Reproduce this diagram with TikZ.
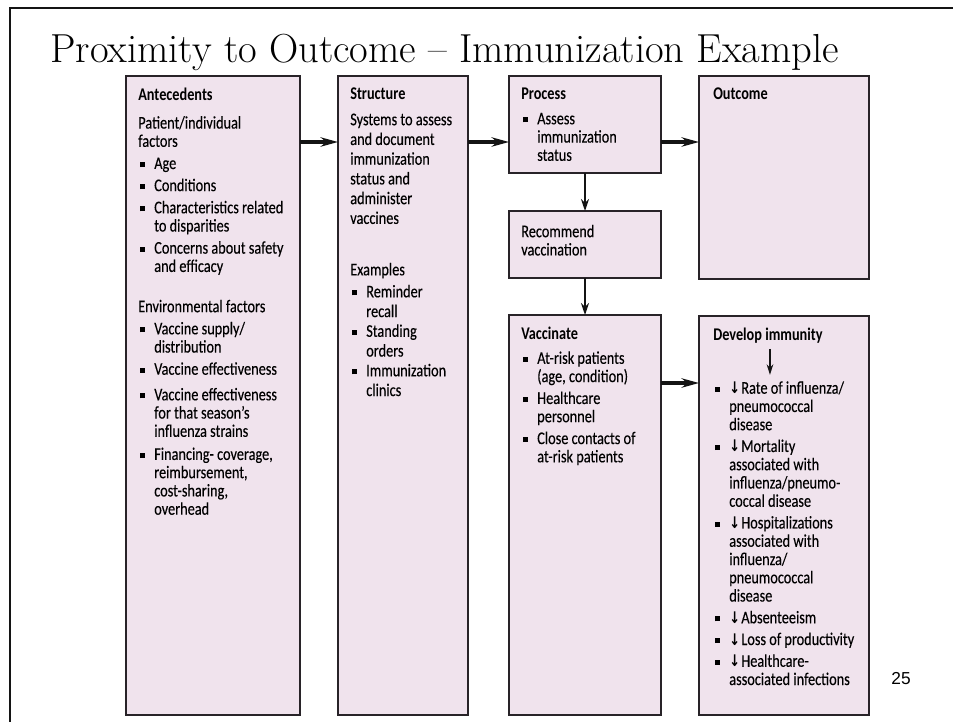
\documentclass[tikz,border=0pt]{standalone}
\usepackage{fontspec}
\setsansfont{Carlito}[FakeStretch=0.8, UprightFeatures={FakeBold=0.2}]
\newfontfamily\arrowfont{DejaVu Sans}[FakeStretch=0.8]
\newfontfamily\numfont{Liberation Sans}
\usepackage{tikz}
\usetikzlibrary{positioning,arrows.meta,calc}
\definecolor{imPink}{RGB}{240,227,237}
\definecolor{imEdge}{RGB}{40,35,40}
\definecolor{imGray}{RGB}{20,20,20}

\newcommand{\sqbul}{\makebox[12pt][l]{\hspace{1.5pt}\rule[1.4pt]{3.8pt}{3.8pt}}}
\newcommand{\indt}{\hspace*{12pt}}
\newcommand{\dnarr}{{\arrowfont\bfseries\fontsize{12pt}{12pt}\selectfont ↓}\hspace{1pt}}

\tikzset{
  panel/.style={draw=imEdge, line width=1.5pt, fill=imPink, anchor=north west, inner sep=0pt, outer sep=0pt},
  paneltext/.style={anchor=north west, align=left, inner sep=0pt, font=\sffamily\fontsize{13.4pt}{13.7pt}\selectfont},
  loosetext/.style={paneltext, font=\sffamily\fontsize{13.4pt}{14.8pt}\selectfont},
  flow/.style={line width=2.3pt, imGray, -{Stealth[length=13pt,width=7pt]}},
  drop/.style={line width=1.2pt, imGray, -{Stealth[length=9pt,width=6pt]}},
}

\begin{document}
\begin{tikzpicture}[x=0.75pt,y=-0.75pt]
  \useasboundingbox (0,0) rectangle (953,722);

  % Slide frame and title
  \draw[line width=2.2pt, imGray] (953,8) -- (10,8) -- (10,722);
  \node[anchor=base west, inner sep=0pt] (title) at (50,62) {\fontsize{30.4pt}{31pt}\selectfont Proximity to Outcome – Immunization Example};

  % Antecedents
  \node[panel, minimum width=130.5pt, minimum height=479.25pt] (ante) at (126,76) {};
  \node[paneltext] (anteTxt) at ([shift={(12,11.5)}]ante.north west) {\textbf{Antecedents}\\[7.5pt]
    Patient/individual\\ factors\\[2.9pt]
    \sqbul Age\\[2.9pt]
    \sqbul Conditions\\[2.9pt]
    \sqbul Characteristics related\\ \indt to disparities\\[2.9pt]
    \sqbul Concerns about safety\\ \indt and efficacy\\[16.5pt]
    Environmental factors\\[2.9pt]
    \sqbul Vaccine supply/\\ \indt distribution\\[2.9pt]
    \sqbul Vaccine effectiveness\\[5.5pt]
    \sqbul Vaccine effectiveness\\ \indt for that season’s\\ \indt influenza strains\\[3.6pt]
    \sqbul Financing- coverage,\\ \indt reimbursement,\\ \indt cost-sharing,\\ \indt overhead};

  % Structure
  \node[panel, minimum width=97.5pt, minimum height=479.25pt] (struct) at (338,76) {};
  \node[loosetext] (structTxt) at ([shift={(12,11.5)}]struct.north west) {\textbf{Structure}\\[4.5pt]
    Systems to assess\\ and document\\ immunization\\ status and\\ administer\\ vaccines\\[23.8pt]
    Examples\\[1.7pt]
    \sqbul Reminder\\ \indt recall\\
    \sqbul Standing\\ \indt orders\\
    \sqbul Immunization\\ \indt clinics};

  % Process
  \node[panel, minimum width=114pt, minimum height=72.75pt] (proc) at (509,76) {};
  \node[paneltext] (procTxt) at ([shift={(12,11.5)}]proc.north west) {\textbf{Process}\\[5pt]
    \sqbul Assess\\ \indt immunization\\ \indt status};

  % Recommend
  \node[panel, minimum width=114pt, minimum height=50.25pt] (rec) at (509,211) {};
  \node[paneltext] (recTxt) at ([shift={(12,13.5)}]rec.north west) {Recommend\\ vaccination};

  % Vaccinate
  \node[panel, minimum width=114pt, minimum height=300pt] (vacc) at (509,315) {};
  \node[paneltext] (vaccTxt) at ([shift={(12,12)}]vacc.north west) {\textbf{Vaccinate}\\[4.3pt]
    \sqbul At-risk patients\\ \indt (age, condition)\\[2.7pt]
    \sqbul Healthcare\\ \indt personnel\\[2.7pt]
    \sqbul Close contacts of\\ \indt at-risk patients};

  % Outcome
  \node[panel, minimum width=127.5pt, minimum height=152.25pt] (outc) at (699,76) {};
  \node[paneltext] (outcTxt) at ([shift={(14,11.5)}]outc.north west) {\textbf{Outcome}};

  % Develop immunity
  \node[panel, minimum width=127.5pt, minimum height=299.25pt] (dev) at (699,316) {};
  \node[paneltext] (devHead) at ([shift={(14,12)}]dev.north west) {\textbf{Develop immunity}};
  \draw[drop, line width=1pt, -{Stealth[length=8pt,width=5pt]}] ([shift={(2,5)}]devHead.south) -- ([shift={(2,31)}]devHead.south);
  \node[paneltext] (devList) at ([shift={(14,65)}]dev.north west) {\sqbul\dnarr Rate of influenza/\\ \indt pneumococcal\\ \indt disease\\[2.6pt]
    \sqbul\dnarr Mortality\\ \indt associated with\\ \indt influenza/pneumo-\\ \indt coccal disease\\[2.6pt]
    \sqbul\dnarr Hospitalizations\\ \indt associated with\\ \indt influenza/\\ \indt pneumococcal\\ \indt disease\\[2.6pt]
    \sqbul\dnarr Absenteeism\\[2.6pt]
    \sqbul\dnarr Loss of productivity\\[2.6pt]
    \sqbul\dnarr Healthcare-\\ \indt associated infections};

  % Connectors
  \coordinate (topRow) at (0,142);
  \coordinate (lowRow) at (0,383);
  \draw[flow] (ante.east |- topRow) -- (struct.west |- topRow);
  \draw[flow] (struct.east |- topRow) -- (proc.west |- topRow);
  \draw[flow] (proc.east |- topRow) -- (outc.west |- topRow);
  \draw[drop] (proc.south) -- (rec.north);
  \draw[drop] (rec.south) -- (vacc.north);
  \draw[flow] (vacc.east |- lowRow) -- (dev.west |- lowRow);

  % Slide number
  \node[inner sep=0pt] (pgNum) at (901,679) {\numfont\fontsize{13pt}{13pt}\selectfont 25};
\end{tikzpicture}
\end{document}
